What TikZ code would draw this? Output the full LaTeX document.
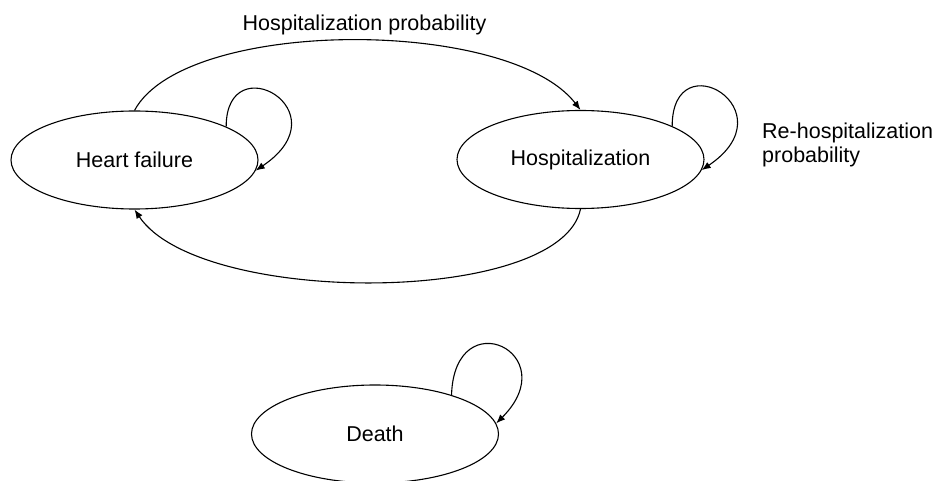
\documentclass[tikz,border=0pt]{standalone}
\usepackage{fontspec}
\setmainfont{Liberation Sans}
\usetikzlibrary{shapes.geometric,arrows.meta}
\tikzset{
  state/.style={draw, ellipse, line width=1.1pt, minimum width=247pt, minimum height=98pt, inner sep=0pt, font=\fontsize{21.5}{24}\selectfont},
  lbl/.style={inner sep=0pt, font=\fontsize{21.5}{24}\selectfont},
  conn/.style={line width=1.1pt, -{Latex[length=9pt,width=7pt]}}
}
\begin{document}
\begin{tikzpicture}[x=1pt,y=-1pt]
\useasboundingbox (0,0) rectangle (935,481);
\node[state] (hf) at (134.5,160) {Heart failure};
\node[state] (hosp) at (580.5,159.5) {Hospitalization};
\node[state] (death) at (375,434) {Death};
\node[lbl, anchor=base] (l1) at (364.5,31) {Hospitalization probability};
\node[lbl, anchor=base west, align=left] (l2) at (762,163) {Re-hospitalization\\probability};
\draw[conn] (hf.north) .. controls +(50,-93) and +(-72,-93) .. (hosp.north);
\draw[conn] (hosp.south) .. controls +(-20,97) and +(65,97) .. (hf.south);
\draw[conn] (hf.20) .. controls +(0,-82) and +(89,-60) .. (hf.-5);
\draw[conn] (hosp.20) .. controls +(0,-86) and +(89,-60) .. (hosp.-5);
\draw[conn] (death.27) .. controls +(3,-95) and +(70,-70) .. (death.5);
\end{tikzpicture}
\end{document}
